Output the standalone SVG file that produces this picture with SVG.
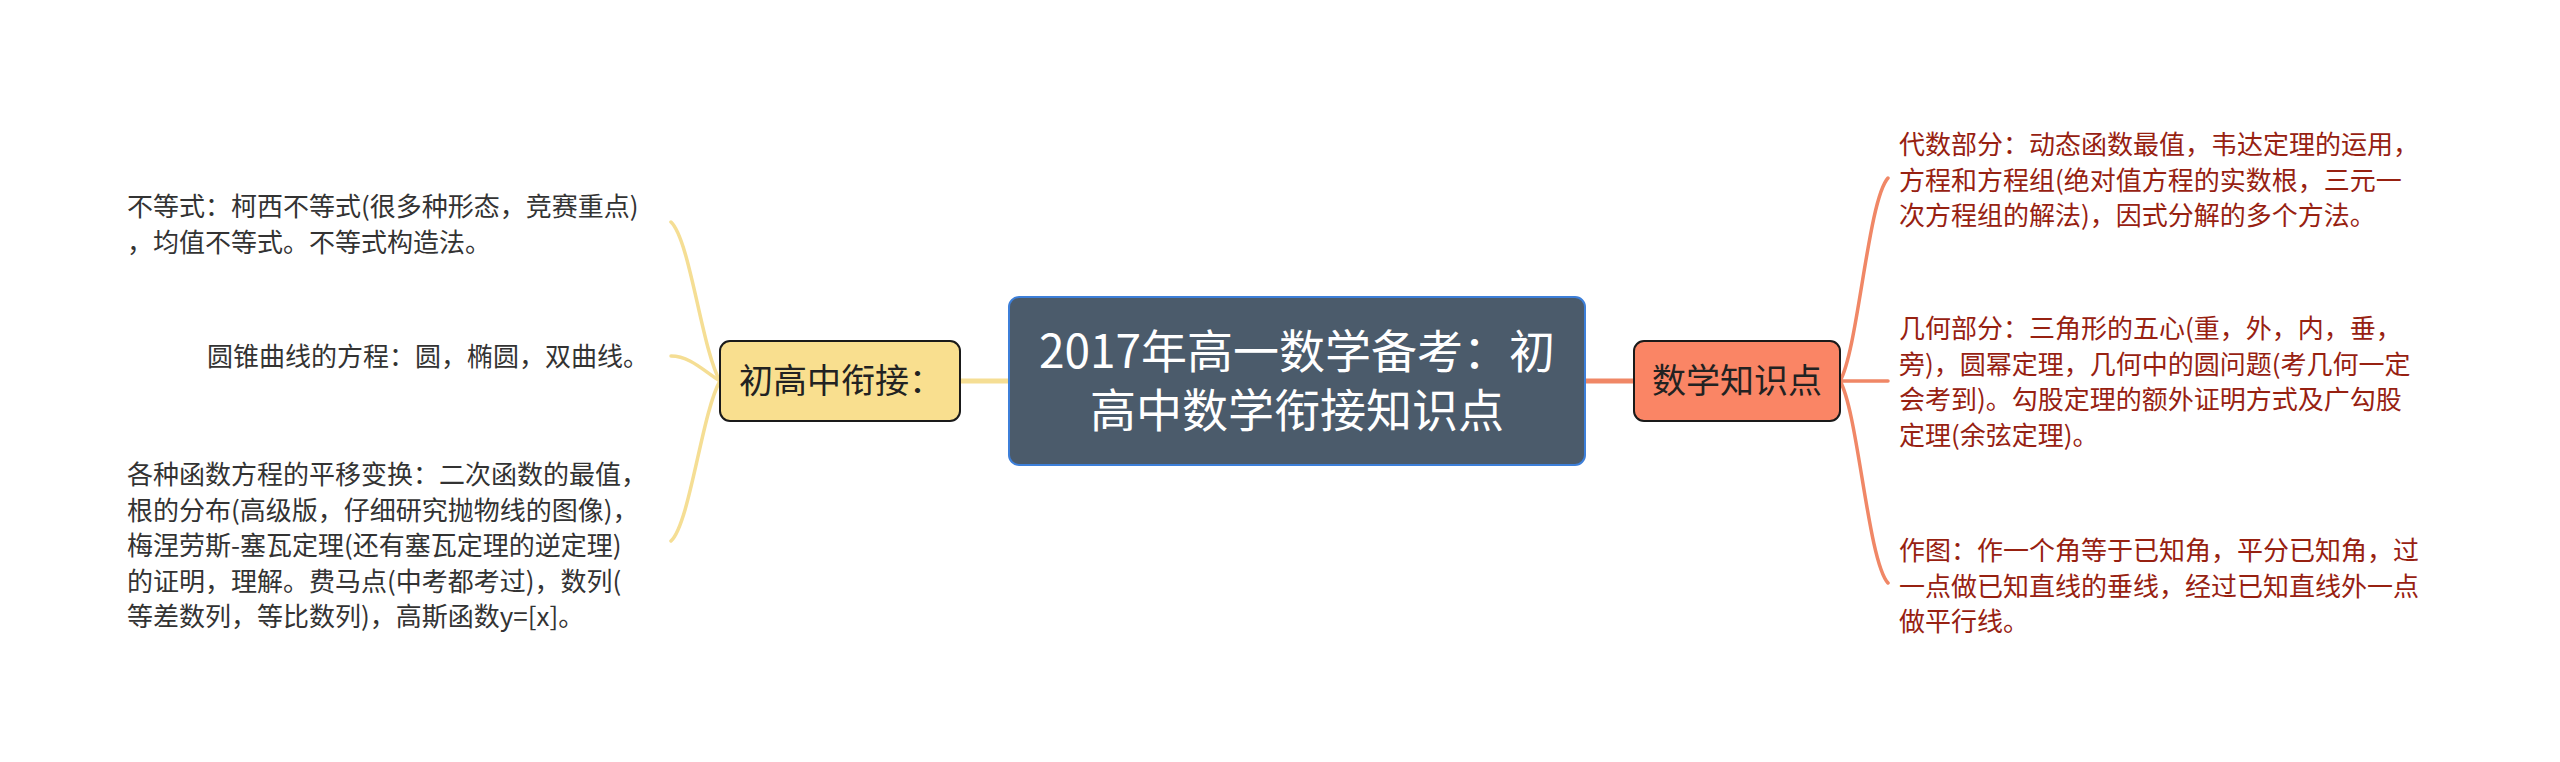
<svg xmlns="http://www.w3.org/2000/svg" width="2560" height="762" viewBox="0 0 2560 762">
<style>
text{font-family:"Noto Sans CJK SC","Noto Sans",sans-serif;}
.leafL{font-size:26px;fill:#333333;}
.leafR{font-size:26px;fill:#972111;}
.lineY{fill:none;stroke:#F5DE94;stroke-width:3.5;stroke-linecap:round;}
.lineR{fill:none;stroke:#F08766;stroke-width:3.5;stroke-linecap:round;}
</style>
<rect width="2560" height="762" fill="#ffffff"/>
<g id="connectors">
<path class="lineY" d="M1009 381 L960 381" style="stroke-width:5"/>
<path class="lineR" d="M1585 381 L1634 381" style="stroke-width:5"/>
<path class="lineY" d="M720 381 C702 350 690 240 671 222"/>
<path class="lineY" d="M720 381 C705 372 690 356 671 356"/>
<path class="lineY" d="M720 381 C702 412 690 523 671 541"/>
<path class="lineR" d="M1840 381 C1858 350 1868 200 1888 178"/>
<path class="lineR" d="M1840 381 L1888 381"/>
<path class="lineR" d="M1840 381 C1858 412 1868 561 1888 583"/>
</g>
<g id="center">
<rect x="1009" y="297" width="576" height="168" rx="10" fill="#4B5B6B" stroke="#3D7FD9" stroke-width="2"/>
<text font-size="46" fill="#ffffff" text-anchor="middle"><tspan x="1297" y="368">2017年高一数学备考：初</tspan><tspan x="1297" y="427">高中数学衔接知识点</tspan></text>
</g>
<g id="node-left">
<rect x="720" y="341" width="240" height="80" rx="10" fill="#F9DF8F" stroke="#1a1a1a" stroke-width="2"/>
<text x="739" y="393" font-size="34" fill="#222222">初高中衔接：</text>
</g>
<g id="node-right">
<rect x="1634" y="341" width="206" height="80" rx="10" fill="#FA8565" stroke="#1a1a1a" stroke-width="2"/>
<text x="1737" y="393" font-size="34" fill="#222222" text-anchor="middle">数学知识点</text>
</g>
<g id="leaf-l1">
<text class="leafL"><tspan x="127" y="216">不等式：柯西不等式(很多种形态，竞赛重点)</tspan><tspan x="127" y="252">，均值不等式。不等式构造法。</tspan></text>
</g>
<g id="leaf-l2">
<text class="leafL" x="207" y="366">圆锥曲线的方程：圆，椭圆，双曲线。</text>
</g>
<g id="leaf-l3">
<text class="leafL"><tspan x="127" y="484">各种函数方程的平移变换：二次函数的最值，</tspan><tspan x="127" y="519.5">根的分布(高级版，仔细研究抛物线的图像)，</tspan><tspan x="127" y="555">梅涅劳斯-塞瓦定理(还有塞瓦定理的逆定理)</tspan><tspan x="127" y="590.5">的证明，理解。费马点(中考都考过)，数列(</tspan><tspan x="127" y="626">等差数列，等比数列)，高斯函数y=[x]。</tspan></text>
</g>
<g id="leaf-r1">
<text class="leafR"><tspan x="1899" y="154">代数部分：动态函数最值，韦达定理的运用，</tspan><tspan x="1899" y="189.5">方程和方程组(绝对值方程的实数根，三元一</tspan><tspan x="1899" y="225">次方程组的解法)，因式分解的多个方法。</tspan></text>
</g>
<g id="leaf-r2">
<text class="leafR"><tspan x="1899" y="338">几何部分：三角形的五心(重，外，内，垂，</tspan><tspan x="1899" y="373.5">旁)，圆幂定理，几何中的圆问题(考几何一定</tspan><tspan x="1899" y="409">会考到)。勾股定理的额外证明方式及广勾股</tspan><tspan x="1899" y="444.5">定理(余弦定理)。</tspan></text>
</g>
<g id="leaf-r3">
<text class="leafR"><tspan x="1899" y="560">作图：作一个角等于已知角，平分已知角，过</tspan><tspan x="1899" y="595.5">一点做已知直线的垂线，经过已知直线外一点</tspan><tspan x="1899" y="631">做平行线。</tspan></text>
</g>
</svg>
